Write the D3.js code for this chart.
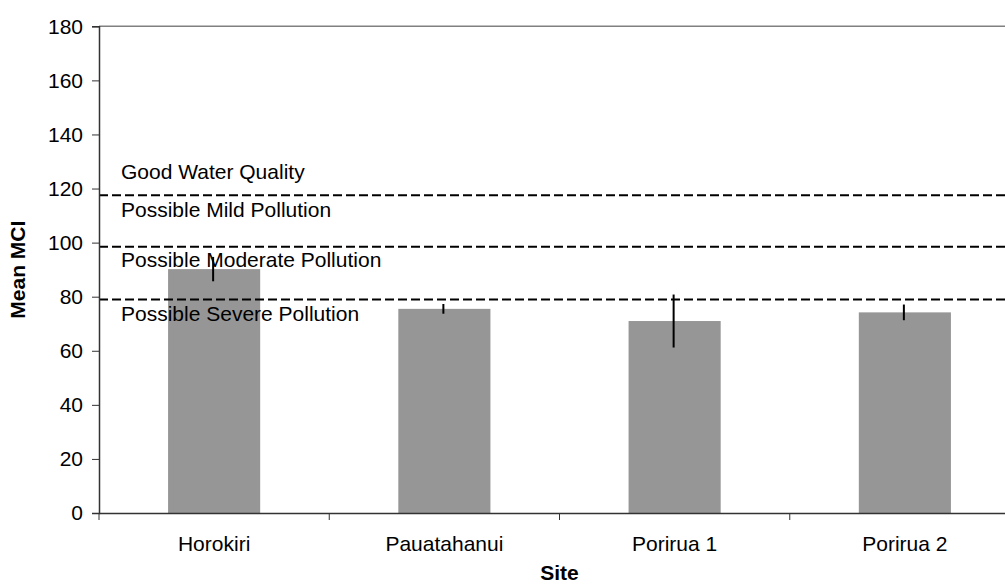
<!DOCTYPE html>
<html>
<head>
<meta charset="utf-8">
<script src="https://cdn.jsdelivr.net/npm/d3@7"></script>
<style>
  body { margin: 0; background: #fff; }
  svg { display: block; font-family: "Liberation Sans", Arial, sans-serif; }
  .axis text { font-size: 21px; fill: #000; }
  .axis path, .axis line { stroke: #333; }
</style>
</head>
<body>
<div id="chart"></div>
<script>
//////////
// DATA //
//////////

var sites = ["Horokiri", "Pauatahanui", "Porirua 1", "Porirua 2"];
var meanMCI = [90.2, 75.5, 71.0, 74.2];
var errMCI = [4.5, 1.8, 9.8, 2.9];

var yTicks = [0, 20, 40, 60, 80, 100, 120, 140, 160, 180];

// quality class boundaries (dashed lines) and their labels
var thresholds = [117.5, 98.5, 79];
var bandLabels = ["Good Water Quality", "Possible Mild Pollution", "Possible Moderate Pollution", "Possible Severe Pollution"];
var bandLabelY = [123.5, 109.5, 91, 71.1];

//////////////////////////////
// SVG AND GRAPH DIMENSIONS //
//////////////////////////////

var svgWidth = 1005, svgHeight = 585;
// right edge of the plot runs past the picture, as in the original
var plotLeft = 99, plotRight = 1020, plotTop = 26.3, plotBottom = 513;

var svg = d3.select("#chart").append("svg")
  .attr("width", svgWidth)
  .attr("height", svgHeight);

var x = d3.scaleBand()
  .domain(sites)
  .range([plotLeft, plotRight])
  .paddingInner(0.6)
  .paddingOuter(0.3);

var y = d3.scaleLinear()
  .domain([0, 180])
  .range([plotBottom, plotTop]);

// top frame line
svg.append("line")
  .attr("x1", plotLeft).attr("x2", plotRight)
  .attr("y1", y(180)).attr("y2", y(180))
  .attr("stroke", "#808080")
  .attr("stroke-width", 1.5);

//////////
// BARS //
//////////

svg.selectAll(".bar")
  .data(sites)
  .enter().append("rect")
  .attr("class", "bar")
  .attr("x", function (d) { return x(d); })
  .attr("width", x.bandwidth())
  .attr("y", function (d, i) { return y(meanMCI[i]); })
  .attr("height", function (d, i) { return y(0) - y(meanMCI[i]); })
  .attr("fill", "#969696");

// threshold lines
svg.selectAll(".thresh")
  .data(thresholds)
  .enter().append("line")
  .attr("class", "thresh")
  .attr("x1", plotLeft).attr("x2", plotRight)
  .attr("y1", function (d) { return y(d); })
  .attr("y2", function (d) { return y(d); })
  .attr("stroke", "#000")
  .attr("stroke-width", 2)
  .attr("stroke-dasharray", "9,4");

svg.selectAll(".bandlabel")
  .data(bandLabels)
  .enter().append("text")
  .attr("class", "bandlabel")
  .attr("x", 121)
  .attr("y", function (d, i) { return y(bandLabelY[i]); })
  .style("font-size", "21px")
  .text(function (d) { return d; });

// error bars
svg.selectAll(".err")
  .data(sites)
  .enter().append("line")
  .attr("class", "err")
  .attr("x1", function (d) { return x(d) + x.bandwidth() / 2 - 1; })
  .attr("x2", function (d) { return x(d) + x.bandwidth() / 2 - 1; })
  .attr("y1", function (d, i) { return y(meanMCI[i] + errMCI[i]); })
  .attr("y2", function (d, i) { return y(meanMCI[i] - errMCI[i]); })
  .attr("stroke", "#000")
  .attr("stroke-width", 2);

//////////
// AXES //
//////////

var yAxis = d3.axisLeft(y).tickValues(yTicks).tickSize(7).tickPadding(9);
svg.append("g")
  .attr("class", "axis")
  .attr("transform", "translate(" + plotLeft + ",0)")
  .call(yAxis)
  .call(function (g) { g.select(".domain").attr("stroke-width", 1.5); });

var xAxis = d3.axisBottom(x).tickSize(0);
var gx = svg.append("g")
  .attr("class", "axis")
  .attr("transform", "translate(0," + plotBottom + ")")
  .call(xAxis);
gx.select(".domain").attr("stroke-width", 1.5);
gx.selectAll(".tick text").attr("dy", 0).attr("y", 38);

// category boundary ticks
gx.selectAll(".sep")
  .data(d3.range(sites.length + 1))
  .enter().append("line")
  .attr("class", "sep")
  .attr("x1", function (i) { return plotLeft + i * x.step(); })
  .attr("x2", function (i) { return plotLeft + i * x.step(); })
  .attr("y1", 0).attr("y2", 7)
  .attr("stroke", "#333");

// axis titles
svg.append("text")
  .attr("x", (plotLeft + plotRight) / 2)
  .attr("y", 580)
  .style("text-anchor", "middle")
  .style("font-size", "21px")
  .style("font-weight", "bold")
  .text("Site");

svg.append("text")
  .attr("transform", "translate(25," + (plotTop + plotBottom) / 2 + ") rotate(-90)")
  .style("text-anchor", "middle")
  .style("font-size", "21px")
  .style("font-weight", "bold")
  .text("Mean MCI");
</script>
</body>
</html>
